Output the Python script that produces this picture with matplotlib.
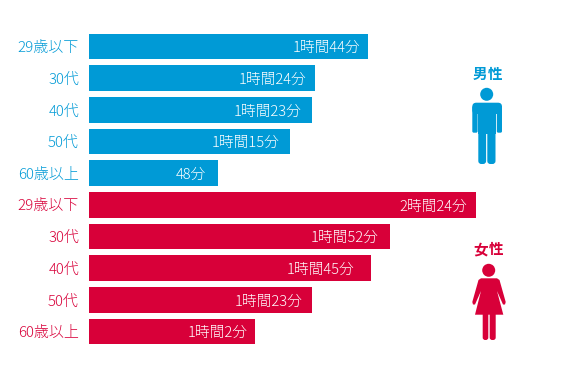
#!/usr/bin/env python3
# -*- coding: utf-8 -*-
import matplotlib
matplotlib.use('Agg')
from matplotlib import pyplot as plt
from matplotlib.patches import Circle, Polygon, FancyBboxPatch

plt.rcParams['font.family'] = ['Noto Sans CJK JP', 'DejaVu Sans']

W, H = 567, 378
BLUE = '#009ad6'
RED = '#d80039'

ages = ['29歳以下', '30代', '40代', '50代', '60歳以上']
male_minutes = [104, 84, 83, 75, 48]
female_minutes = [144, 112, 105, 83, 62]
male_labels = ['1時間44分', '1時間24分', '1時間23分', '1時間15分', '48分']
female_labels = ['2時間24分', '1時間52分', '1時間45分', '1時間23分', '1時間2分']

# gap between label end and bar end, px (not the same on every bar in the original)
label_gaps = [8, 8, 10, 11, 12, 9, 11, 16, 9, 8]

fig = plt.figure(figsize=(W / 100, H / 100), dpi=100)

# bars, x axis in minutes: 2.685 px per minute from x=89
ax = fig.add_axes([89 / W, 1 - 347.3 / H, 478 / W, 316.6 / H])
ax.set_xlim(0, 478 / 2.685)
ax.set_ylim(9.5, -0.5)
ax.axis('off')

cats = ages + ages
minutes = male_minutes + female_minutes
labels = male_labels + female_labels
colors = [BLUE] * 5 + [RED] * 5

ax.barh(range(10), minutes, height=0.81, color=colors, linewidth=0)

for ii in range(10):
    ax.annotate(labels[ii], (minutes[ii], ii), xytext=(-label_gaps[ii] * 0.72, -1.2), textcoords='offset points',
                ha='right', va='center', color='white', fontsize=10.6, fontweight='light')
    ax.annotate(cats[ii], (0, ii), xytext=(-7.2, -1.2), textcoords='offset points',
                ha='right', va='center', color=colors[ii], fontsize=10.8, fontweight='light',
                annotation_clip=False)

# overlay in pixel coordinates for the icons
ov = fig.add_axes([0, 0, 1, 1])
ov.set_xlim(0, W)
ov.set_ylim(H, 0)
ov.axis('off')
ov.patch.set_alpha(0)


def rounded(x0, y0, x1, y1, color, r=1.5):
    ov.add_patch(FancyBboxPatch((x0 + r, y0 + r), x1 - x0 - 2 * r, y1 - y0 - 2 * r,
                                boxstyle='round,pad=%g,rounding_size=%g' % (r, r),
                                fc=color, ec='none'))


# male
ov.text(480, 74, '男', color=BLUE, fontsize=10.5, fontweight='bold', ha='center', va='center')
ov.text(495.5, 74, '性', color=BLUE, fontsize=10.5, fontweight='bold', ha='center', va='center')
ov.add_patch(Circle((486.7, 94.3), 6.5, fc=BLUE, ec='none'))
rounded(472.3, 102.7, 502, 114, BLUE, r=4)
rounded(472.3, 106, 477.6, 132.7, BLUE)
rounded(496.8, 106, 502, 132.7, BLUE)
ov.add_patch(Polygon([(478.3, 104), (496, 104), (496, 134), (478.3, 134)], fc=BLUE, ec='none'))
rounded(478.3, 128, 486.1, 164, BLUE, r=3)
rounded(487.3, 128, 495.5, 164, BLUE, r=3)

# female
ov.text(480.5, 249, '女', color=RED, fontsize=10.5, fontweight='bold', ha='center', va='center')
ov.text(496, 249, '性', color=RED, fontsize=10.5, fontweight='bold', ha='center', va='center')
ov.add_patch(Circle((488.7, 270.3), 6.5, fc=RED, ec='none'))
ov.add_patch(Polygon([(481, 278.3), (497, 278.3), (499.5, 280), (505.7, 302), (505, 304.5), (503, 304.5),
                      (497, 291), (503.3, 314.7), (475, 314.7), (481, 291), (475, 304.5), (473, 304.5),
                      (472.3, 302), (478.5, 280)], fc=RED, ec='none'))
rounded(482.7, 310, 488.3, 340, RED, r=2.5)
rounded(489.7, 310, 495.7, 340, RED, r=2.5)

fig.savefig('out.png', dpi=100)
